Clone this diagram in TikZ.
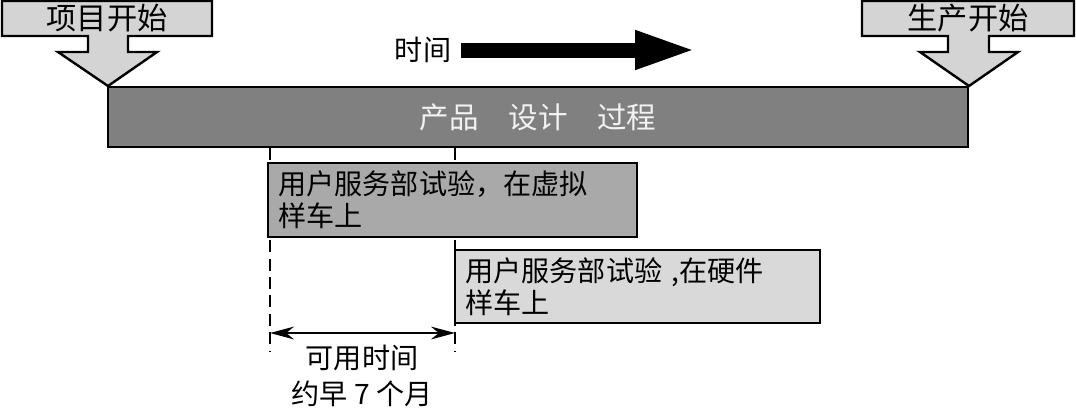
\documentclass[tikz,border=0pt]{standalone}
\usepackage{fontspec}
\newfontfamily\cjk{Noto Sans CJK SC}
\usetikzlibrary{arrows.meta,positioning}
\definecolor{bargray}{HTML}{808080}
\definecolor{callgray}{HTML}{D4D4D4}
\definecolor{virtgray}{HTML}{A9A9A9}
\definecolor{hardgray}{HTML}{D9D9D9}
\definecolor{bartext}{HTML}{F2F2F2}
\tikzset{
  lbl/.style={font=\cjk\fontsize{20}{26}\selectfont, inner sep=0pt},
  biglbl/.style={lbl, font=\cjk\fontsize{21.5}{26}\selectfont},
  callout/.style={draw, fill=callgray, line width=0.6mm, line join=miter},
  testbox/.style={draw, line width=0.6mm, inner xsep=2.6mm, inner ysep=0pt,
    align=left, font=\cjk\fontsize{20}{23}\selectfont},
  guide/.style={dashed, dash pattern=on 3mm off 1.6mm, line width=0.45mm}
}
\begin{document}
\begin{tikzpicture}[x=0.25mm,y=-0.25mm]
  \useasboundingbox (0,0) rectangle (1076,416);
  % start / end markers
  \draw[callout] (2,1)--(212,1)--(212,36)--(128,36)--(128,52)--(157,52)--(108,86)
    --(58,52)--(88,52)--(88,36)--(2,36)--cycle;
  \node[biglbl] (start) at (107,18) {项目开始};
  \draw[callout] (862,1)--(1074,1)--(1074,36)--(989,36)--(989,52)--(1018,52)--(969,86)
    --(920,52)--(948,52)--(948,36)--(862,36)--cycle;
  \node[biglbl] (prod) at (968,18) {生产开始};
  % time arrow
  \node[lbl] (time) at (423,50) {时间};
  \coordinate (timeend) at (697,50);
  \draw[line width=3.75mm, -{Triangle[length=15.5mm, width=8.75mm]}]
    ([xshift=2.5mm]time.east) -- (timeend);
  % process bar
  \node[draw, fill=bargray, line width=0.6mm, minimum width=215mm, minimum height=15mm,
    text=bartext, font=\cjk\fontsize{21}{24}\selectfont] (bar) at (538,117)
    {产品\quad 设计\quad 过程};
  % available time
  \coordinate (d1) at (270,352);
  \coordinate (d2) at (455,352);
  \draw[guide] (d1 |- bar.south) -- (d1);
  \draw[guide] (d2 |- bar.south) -- (d2);
  % tests
  \node[testbox, fill=virtgray, text width=87mm, minimum height=18.5mm] (virt) at (452.5,200)
    {用户服务部试验，在虚拟\\样车上};
  \node[testbox, fill=hardgray, text width=86mm, minimum height=18.25mm] (hard) at (637.5,286.5)
    {用户服务部试验 ,在硬件\\样车上};
  \coordinate (m1) at (270,333);
  \coordinate (m2) at (455,333);
  \draw[line width=0.5mm, {Stealth[length=6mm, width=3.2mm]}-{Stealth[length=6mm, width=3.2mm]}]
    (m1) -- (m2);
  \node[lbl, align=center] (avail) at (362,376) {可用时间\\约早 7 个月};
\end{tikzpicture}
\end{document}
